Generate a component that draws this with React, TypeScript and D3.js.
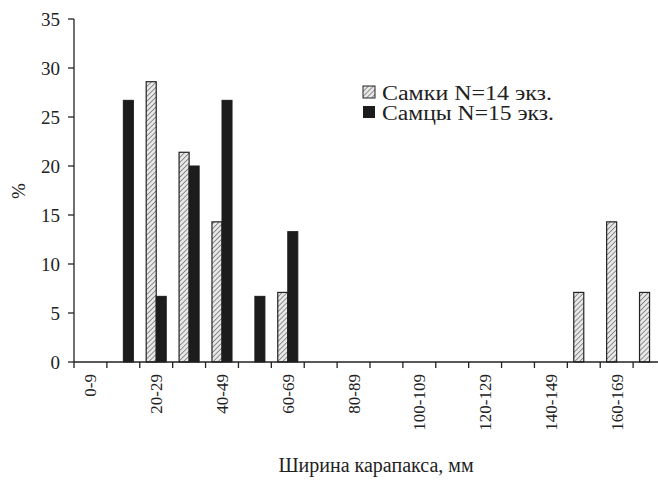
import React from 'react';
import { scaleBand, scaleLinear } from 'd3';

const width = 658;
const height = 480;

const categories = [
  '0-9', '10-19', '20-29', '30-39', '40-49', '50-59', '60-69', '70-79', '80-89',
  '90-99', '100-109', '110-119', '120-129', '130-139', '140-149', '150-159',
  '160-169', '170-179',
];
const females = [0, 0, 28.6, 21.4, 14.3, 0, 7.1, 0, 0, 0, 0, 0, 0, 0, 0, 7.1, 14.3, 7.1];
const males = [0, 26.7, 6.7, 20, 26.7, 6.7, 13.3, 0, 0, 0, 0, 0, 0, 0, 0, 0, 0, 0];
const seriesNames = ['Самки N=14 экз.', 'Самцы N=15 экз.'];
const yTicks = [0, 5, 10, 15, 20, 25, 30, 35];

const left = 74;
const right = 666;
const top = 19;
const bottom = 362;
const ink = '#222';
const font = 'Liberation Serif, DejaVu Serif, serif';

const x = scaleBand<string>().domain(categories).range([left, right]).padding(0);
const x1 = scaleBand<string>().domain(['f', 'm']).range([0, x.bandwidth()])
  .paddingInner(0).paddingOuter(0.64);
const y = scaleLinear().domain([0, 35]).range([bottom, top]);

const HatchDefs = () => (
  <defs>
    <pattern id="hatch" patternUnits="userSpaceOnUse" width={3.5} height={3.5}
      patternTransform="rotate(45)">
      <rect width={3.5} height={3.5} fill="#e8e8e8" />
      <line x1={0} y1={0} x2={0} y2={3.5} stroke="#666" strokeWidth={1.4} />
    </pattern>
  </defs>
);

const App = () => (
  <svg width={width} height={height}
    style={{ position: 'absolute', left: 0, top: 0, background: '#fff', fontFamily: font }}>
    <HatchDefs />
    <rect width={width} height={height} fill="#fff" />

    {/* bars */}
    {categories.map((c, i) => (
      <g key={c}>
        {females[i] > 0 && (
          <rect x={(x(c) as number) + (x1('f') as number)} y={y(females[i])}
            width={x1.bandwidth()} height={bottom - y(females[i])}
            fill="url(#hatch)" stroke={ink} strokeWidth={1.2} />
        )}
        {males[i] > 0 && (
          <rect x={(x(c) as number) + (x1('m') as number)} y={y(males[i])}
            width={x1.bandwidth()} height={bottom - y(males[i])}
            fill="#1c1c1c" stroke="#1c1c1c" strokeWidth={1} />
        )}
      </g>
    ))}

    {/* y axis */}
    <line x1={left} x2={left} y1={top} y2={bottom} stroke={ink} strokeWidth={1.3} />
    {yTicks.map(t => (
      <g key={t} transform={`translate(0,${y(t)})`}>
        <line x1={left - 6} x2={left} stroke={ink} strokeWidth={1.3} />
        <text x={left - 14} dy="0.35em" textAnchor="end" fontSize={19} fill={ink}>{t}</text>
      </g>
    ))}
    <text transform={`translate(25,191) rotate(-90)`} textAnchor="middle" fontSize={19} fill={ink}>%</text>

    {/* x axis */}
    <line x1={left} x2={right} y1={bottom} y2={bottom} stroke={ink} strokeWidth={1.3} />
    {categories.map(c => (
      <line key={c} x1={x(c)} x2={x(c)} y1={bottom} y2={bottom + 6} stroke={ink} strokeWidth={1.3} />
    ))}
    {categories.map((c, i) => i % 2 === 0 && (
      <text key={c} transform={`translate(${(x(c) as number) + x.bandwidth() / 2},${bottom + 12}) rotate(-90)`}
        dy="0.35em" textAnchor="end" fontSize={17} fill={ink}>{c}</text>
    ))}
    <text x={376} y={472} textAnchor="middle" fontSize={20} fill={ink}>Ширина карапакса, мм</text>

    {/* legend */}
    <g transform="translate(363,86)">
      <rect x={0} y={0} width={12} height={12} fill="url(#hatch)" stroke={ink} strokeWidth={1} />
      <text x={19} y={13.5} fontSize={20} fill={ink} textLength={170} lengthAdjust="spacingAndGlyphs">
        {seriesNames[0]}
      </text>
      <rect x={0} y={20} width={12} height={12} fill="#1c1c1c" />
      <text x={19} y={33.5} fontSize={20} fill={ink} textLength={172} lengthAdjust="spacingAndGlyphs">
        {seriesNames[1]}
      </text>
    </g>
  </svg>
);

export default App;
